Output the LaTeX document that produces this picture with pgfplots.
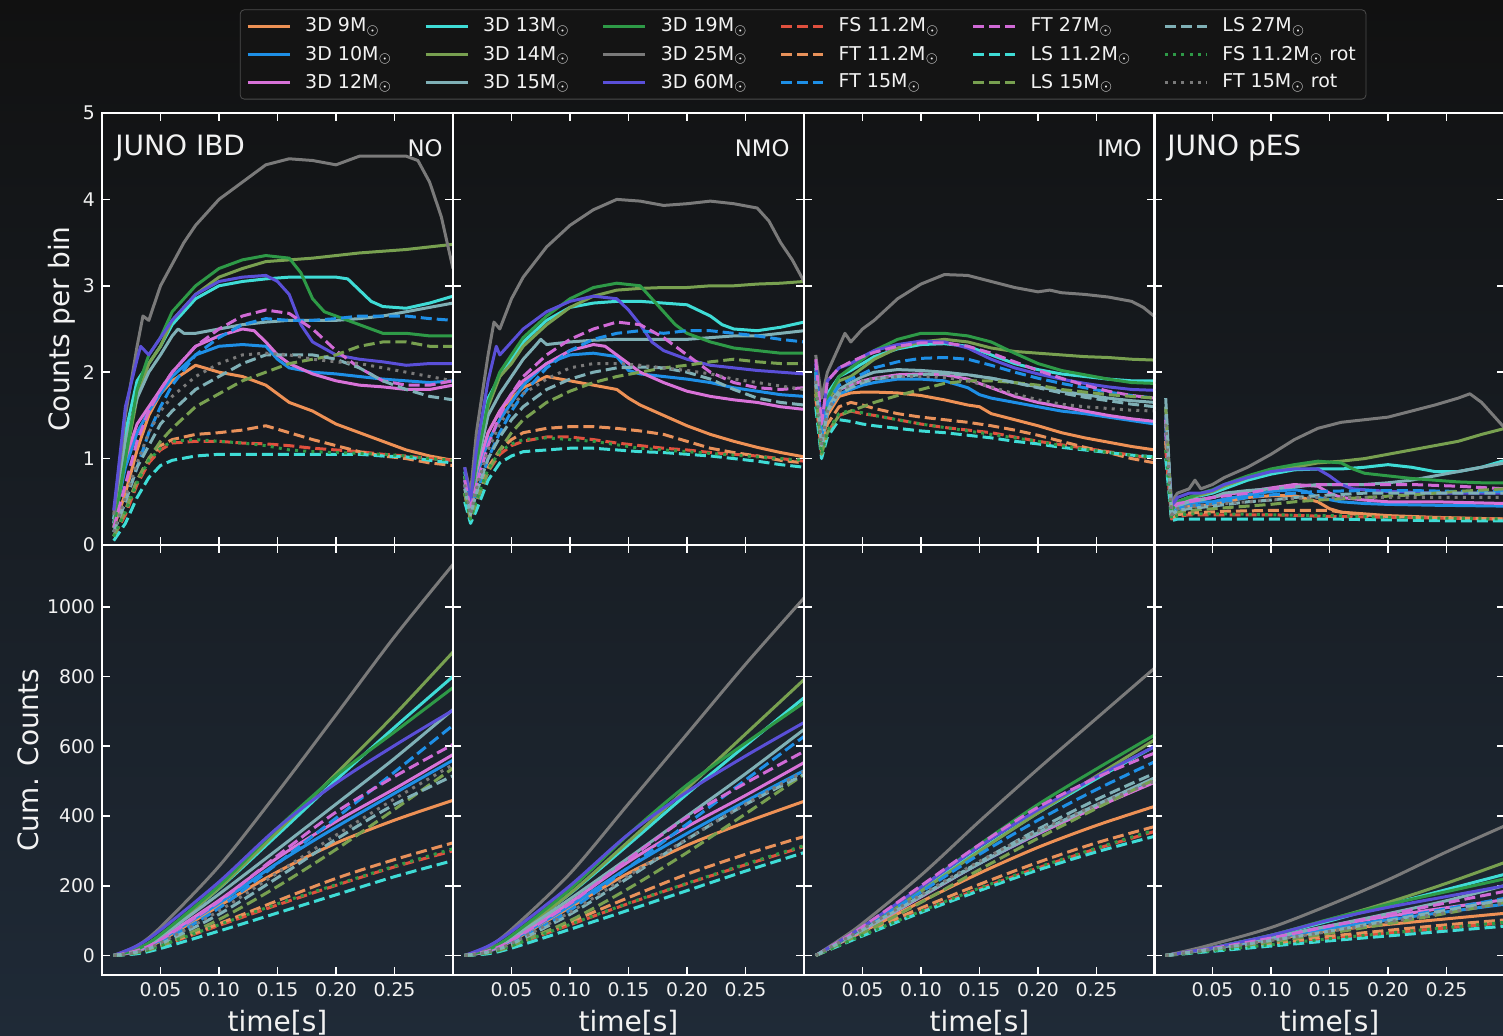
\documentclass[border=0pt]{standalone}
\usepackage{pgfplots}
\pgfplotsset{compat=1.18}
\usepackage{fontspec}
\setmainfont{DejaVu Sans}
\definecolor{bgtop}{HTML}{111111}
\definecolor{bgmid}{HTML}{16191D}
\definecolor{bgbot}{HTML}{1F2A37}
\definecolor{txt}{HTML}{F2F2F2}
\definecolor{c9}{HTML}{EE9155}
\definecolor{c10}{HTML}{1E8FE6}
\definecolor{c12}{HTML}{D872D8}
\definecolor{c13}{HTML}{3FDCD6}
\definecolor{c14}{HTML}{78A050}
\definecolor{c15}{HTML}{7FB0B6}
\definecolor{c19}{HTML}{2E9A47}
\definecolor{c25}{HTML}{7A7A7A}
\definecolor{c60}{HTML}{5A4FD8}
\definecolor{cFS}{HTML}{E0503E}
\definecolor{cFT}{HTML}{E8915A}
\definecolor{cFTb}{HTML}{1E8FE6}
\definecolor{cFTc}{HTML}{D06AD6}
\tikzset{
 base/.style={line width=1.5pt, line join=round},
 s9/.style={base,c9}, s10/.style={base,c10}, s12/.style={base,c12},
 s13/.style={base,c13}, s14/.style={base,c14}, s15/.style={base,c15},
 s19/.style={base,c19}, s25/.style={base,c25}, s60/.style={base,c60},
 dsh/.style={base,dash pattern=on 5.5pt off 2.5pt},
 dot/.style={base,dash pattern=on 1.5pt off 2.6pt},
 sFS/.style={dsh,cFS}, sFT/.style={dsh,cFT}, sFTb/.style={dsh,cFTb},
 sFTc/.style={dsh,cFTc}, sLS/.style={dsh,c13}, sLSb/.style={dsh,c14},
 sLSc/.style={dsh,c15}, sFSr/.style={dot,c19}, sFTr/.style={dot,c25},
}
\pgfplotsset{
 panel/.style={scale only axis, width=175.5pt, xmin=0, xmax=0.3,
  axis line style={white, line width=0.8pt},
  every tick/.style={white, line width=0.8pt},
  major tick length=4pt, tick align=inside, xtick pos=both, ytick pos=both,
  xtick={0.05,0.10,0.15,0.20,0.25},
  tick label style={text=txt, font=\fontsize{9.4}{11}\selectfont},
  /pgf/number format/assume math mode=true,
  /pgf/number format/1000 sep={},
  label style={text=txt, font=\fontsize{14}{16}\selectfont},
  ylabel shift=-3pt,
  anchor=north west},
 toprow/.style={panel, height=216pt, ymin=0, ymax=5, ytick={0,1,2,3,4,5}, xticklabels={}},
 botrow/.style={panel, height=215pt, ymin=-56, ymax=1177, ytick={0,200,400,600,800,1000},
  xticklabel style={/pgf/number format/.cd, fixed, fixed zerofill, precision=2},
  xlabel={time[s]}},
 notick/.style={yticklabels={}},
}
\newcommand{\ptxt}[3]{\node[anchor=#1, inner sep=0pt, text=txt, font=\fontsize{#3}{#3}\selectfont] at #2}
\begin{document}
\begin{tikzpicture}
\shade[top color=bgtop, middle color=bgmid, bottom color=bgbot] (0pt,0pt) rectangle (751.5pt,-518pt);

% ---------------- TOP ROW ----------------
\begin{axis}[toprow, at={(51pt,-56.5pt)}, ylabel={Counts per bin}]
\addplot[s9] coordinates {(0.01,0.2)(0.02,0.6)(0.03,1.1)(0.04,1.5)(0.05,1.75)(0.06,1.9)(0.08,2.08)(0.10,2.0)(0.12,1.95)(0.14,1.85)(0.15,1.75)(0.16,1.65)(0.18,1.55)(0.20,1.4)(0.22,1.3)(0.24,1.2)(0.26,1.1)(0.28,1.03)(0.30,0.98)};
\addplot[s10] coordinates {(0.01,0.25)(0.02,0.9)(0.03,1.3)(0.04,1.55)(0.05,1.75)(0.06,1.95)(0.08,2.2)(0.10,2.3)(0.12,2.32)(0.14,2.3)(0.15,2.15)(0.16,2.05)(0.18,2.0)(0.20,1.98)(0.22,1.95)(0.24,1.92)(0.26,1.9)(0.28,1.88)(0.30,1.9)};
\addplot[s12] coordinates {(0.01,0.3)(0.02,1.0)(0.03,1.4)(0.04,1.6)(0.05,1.8)(0.06,2.0)(0.08,2.3)(0.10,2.42)(0.12,2.5)(0.13,2.48)(0.14,2.35)(0.15,2.2)(0.16,2.1)(0.18,1.98)(0.20,1.9)(0.22,1.85)(0.24,1.83)(0.26,1.8)(0.28,1.8)(0.30,1.85)};
\addplot[s13] coordinates {(0.01,0.3)(0.02,1.3)(0.03,1.9)(0.04,2.1)(0.05,2.3)(0.06,2.55)(0.08,2.85)(0.10,3.0)(0.12,3.05)(0.14,3.08)(0.16,3.1)(0.18,3.1)(0.20,3.1)(0.21,3.08)(0.22,2.95)(0.23,2.82)(0.24,2.76)(0.26,2.74)(0.28,2.8)(0.30,2.88)};
\addplot[s14] coordinates {(0.01,0.2)(0.02,1.0)(0.03,1.7)(0.04,2.1)(0.05,2.3)(0.06,2.6)(0.08,2.9)(0.10,3.1)(0.12,3.2)(0.14,3.28)(0.16,3.3)(0.18,3.32)(0.20,3.35)(0.22,3.38)(0.24,3.4)(0.26,3.42)(0.28,3.45)(0.30,3.48)};
\addplot[s15] coordinates {(0.01,0.25)(0.02,1.2)(0.03,1.7)(0.04,2.0)(0.05,2.2)(0.06,2.42)(0.065,2.5)(0.07,2.45)(0.08,2.45)(0.10,2.5)(0.12,2.55)(0.14,2.58)(0.16,2.6)(0.18,2.6)(0.20,2.6)(0.22,2.62)(0.24,2.65)(0.26,2.7)(0.28,2.75)(0.30,2.8)};
\addplot[s19] coordinates {(0.01,0.2)(0.02,1.0)(0.03,1.8)(0.04,2.2)(0.05,2.4)(0.06,2.7)(0.08,3.0)(0.10,3.2)(0.12,3.3)(0.14,3.35)(0.16,3.32)(0.17,3.15)(0.18,2.85)(0.19,2.7)(0.20,2.65)(0.22,2.55)(0.24,2.45)(0.26,2.45)(0.28,2.42)(0.30,2.42)};
\addplot[s25] coordinates {(0.01,0.35)(0.02,1.5)(0.03,2.3)(0.035,2.65)(0.04,2.6)(0.05,3.0)(0.06,3.25)(0.07,3.5)(0.08,3.7)(0.10,4.0)(0.12,4.2)(0.14,4.4)(0.16,4.47)(0.18,4.45)(0.20,4.4)(0.22,4.5)(0.24,4.5)(0.26,4.5)(0.27,4.45)(0.28,4.2)(0.29,3.8)(0.30,3.2)};
\addplot[s60] coordinates {(0.01,0.4)(0.02,1.6)(0.03,2.15)(0.033,2.3)(0.04,2.2)(0.05,2.4)(0.06,2.6)(0.08,2.9)(0.10,3.05)(0.12,3.1)(0.14,3.12)(0.15,3.05)(0.16,2.9)(0.17,2.55)(0.18,2.35)(0.20,2.2)(0.22,2.15)(0.24,2.12)(0.26,2.08)(0.28,2.1)(0.30,2.1)};
\addplot[sFS] coordinates {(0.01,0.1)(0.02,0.35)(0.03,0.7)(0.04,0.95)(0.05,1.1)(0.06,1.18)(0.08,1.2)(0.10,1.2)(0.12,1.18)(0.14,1.17)(0.16,1.15)(0.18,1.12)(0.20,1.1)(0.22,1.08)(0.24,1.05)(0.26,1.03)(0.28,1.0)(0.30,0.98)};
\addplot[sFT] coordinates {(0.01,0.1)(0.02,0.4)(0.03,0.75)(0.04,1.0)(0.05,1.15)(0.06,1.22)(0.08,1.28)(0.10,1.3)(0.12,1.33)(0.14,1.38)(0.16,1.3)(0.18,1.22)(0.20,1.15)(0.22,1.08)(0.24,1.03)(0.26,1.0)(0.28,0.95)(0.30,0.92)};
\addplot[sFTb] coordinates {(0.01,0.15)(0.02,0.5)(0.03,0.9)(0.04,1.3)(0.05,1.6)(0.06,1.85)(0.08,2.2)(0.10,2.4)(0.12,2.55)(0.14,2.62)(0.16,2.6)(0.18,2.6)(0.20,2.62)(0.22,2.65)(0.24,2.65)(0.26,2.65)(0.28,2.62)(0.30,2.6)};
\addplot[sFTc] coordinates {(0.01,0.2)(0.02,0.7)(0.03,1.2)(0.04,1.55)(0.05,1.8)(0.06,2.0)(0.08,2.3)(0.10,2.5)(0.12,2.65)(0.14,2.72)(0.16,2.68)(0.18,2.5)(0.20,2.25)(0.22,2.05)(0.24,1.9)(0.26,1.85)(0.28,1.85)(0.30,1.9)};
\addplot[sLS] coordinates {(0.01,0.05)(0.02,0.25)(0.03,0.55)(0.04,0.78)(0.05,0.92)(0.06,0.98)(0.08,1.03)(0.10,1.05)(0.12,1.05)(0.14,1.05)(0.16,1.05)(0.18,1.05)(0.20,1.05)(0.22,1.05)(0.24,1.03)(0.26,1.02)(0.28,0.98)(0.30,0.95)};
\addplot[sLSb] coordinates {(0.01,0.1)(0.02,0.4)(0.03,0.75)(0.04,1.0)(0.05,1.2)(0.06,1.35)(0.08,1.6)(0.10,1.75)(0.12,1.9)(0.14,2.0)(0.16,2.1)(0.18,2.15)(0.20,2.2)(0.22,2.3)(0.24,2.35)(0.26,2.35)(0.28,2.3)(0.30,2.3)};
\addplot[sLSc] coordinates {(0.01,0.15)(0.02,0.5)(0.03,0.9)(0.04,1.15)(0.05,1.4)(0.06,1.55)(0.08,1.8)(0.10,1.95)(0.12,2.1)(0.14,2.2)(0.16,2.2)(0.18,2.2)(0.20,2.15)(0.22,2.05)(0.24,1.9)(0.26,1.8)(0.28,1.72)(0.30,1.68)};
\addplot[sFSr] coordinates {(0.01,0.1)(0.02,0.38)(0.03,0.72)(0.04,0.98)(0.05,1.12)(0.06,1.2)(0.08,1.22)(0.10,1.2)(0.12,1.18)(0.14,1.15)(0.16,1.1)(0.18,1.08)(0.20,1.07)(0.22,1.06)(0.24,1.05)(0.26,1.03)(0.28,1.0)(0.30,0.98)};
\addplot[sFTr] coordinates {(0.01,0.15)(0.02,0.55)(0.03,0.95)(0.04,1.3)(0.05,1.55)(0.06,1.72)(0.08,1.95)(0.10,2.1)(0.12,2.2)(0.14,2.22)(0.16,2.2)(0.18,2.15)(0.20,2.12)(0.22,2.1)(0.24,2.05)(0.26,2.0)(0.28,1.95)(0.30,1.9)};
\ptxt{west}{(rel axis cs:0.037,0.919)}{14}{JUNO IBD};
\ptxt{east}{(rel axis cs:0.9715,0.919)}{11.4}{NO};
\end{axis}

\begin{axis}[toprow, notick, at={(226.5pt,-56.5pt)}]
\addplot[s9] coordinates {(0.01,0.7)(0.015,0.35)(0.02,0.75)(0.03,1.3)(0.04,1.55)(0.05,1.7)(0.06,1.82)(0.08,1.95)(0.10,1.9)(0.12,1.85)(0.14,1.8)(0.15,1.7)(0.16,1.62)(0.18,1.5)(0.20,1.38)(0.22,1.28)(0.24,1.2)(0.26,1.13)(0.28,1.07)(0.30,1.02)};
\addplot[s10] coordinates {(0.01,0.75)(0.015,0.4)(0.02,0.8)(0.03,1.2)(0.04,1.45)(0.05,1.65)(0.06,1.85)(0.08,2.1)(0.10,2.2)(0.12,2.22)(0.14,2.18)(0.15,2.02)(0.16,1.98)(0.18,1.95)(0.20,1.92)(0.22,1.88)(0.24,1.82)(0.26,1.78)(0.28,1.74)(0.30,1.72)};
\addplot[s12] coordinates {(0.01,0.8)(0.015,0.4)(0.02,0.85)(0.03,1.3)(0.04,1.55)(0.05,1.75)(0.06,1.9)(0.08,2.1)(0.10,2.25)(0.12,2.32)(0.13,2.3)(0.14,2.2)(0.16,2.0)(0.18,1.88)(0.20,1.78)(0.22,1.72)(0.24,1.68)(0.26,1.65)(0.28,1.6)(0.30,1.57)};
\addplot[s13] coordinates {(0.01,0.85)(0.015,0.45)(0.02,1.0)(0.03,1.7)(0.04,1.95)(0.05,2.15)(0.06,2.35)(0.08,2.6)(0.10,2.75)(0.12,2.8)(0.14,2.82)(0.16,2.82)(0.18,2.8)(0.20,2.78)(0.22,2.65)(0.23,2.55)(0.24,2.5)(0.26,2.48)(0.28,2.52)(0.30,2.58)};
\addplot[s14] coordinates {(0.01,0.8)(0.015,0.45)(0.02,0.9)(0.03,1.6)(0.04,1.95)(0.05,2.1)(0.06,2.3)(0.08,2.55)(0.10,2.75)(0.12,2.88)(0.14,2.95)(0.16,2.97)(0.18,2.98)(0.20,2.98)(0.22,3.0)(0.24,3.0)(0.26,3.02)(0.28,3.03)(0.30,3.05)};
\addplot[s15] coordinates {(0.01,0.8)(0.015,0.4)(0.02,0.9)(0.03,1.5)(0.04,1.75)(0.05,1.95)(0.06,2.15)(0.07,2.3)(0.075,2.38)(0.08,2.32)(0.10,2.35)(0.12,2.37)(0.14,2.38)(0.16,2.38)(0.18,2.38)(0.20,2.38)(0.22,2.4)(0.24,2.42)(0.26,2.42)(0.28,2.45)(0.30,2.48)};
\addplot[s19] coordinates {(0.01,0.8)(0.015,0.45)(0.02,0.95)(0.03,1.65)(0.04,2.0)(0.05,2.2)(0.06,2.4)(0.08,2.65)(0.10,2.85)(0.12,2.98)(0.14,3.03)(0.16,3.0)(0.17,2.85)(0.18,2.7)(0.19,2.55)(0.20,2.45)(0.22,2.35)(0.24,2.28)(0.26,2.25)(0.28,2.22)(0.30,2.22)};
\addplot[s25] coordinates {(0.01,0.9)(0.015,0.6)(0.02,1.3)(0.03,2.2)(0.035,2.58)(0.04,2.5)(0.05,2.85)(0.06,3.1)(0.08,3.45)(0.10,3.7)(0.12,3.88)(0.14,4.0)(0.16,3.98)(0.18,3.93)(0.20,3.95)(0.22,3.98)(0.24,3.95)(0.26,3.9)(0.27,3.75)(0.28,3.5)(0.29,3.3)(0.30,3.05)};
\addplot[s60] coordinates {(0.01,0.9)(0.015,0.5)(0.02,1.1)(0.03,1.9)(0.037,2.3)(0.04,2.2)(0.05,2.35)(0.06,2.5)(0.08,2.7)(0.10,2.82)(0.12,2.88)(0.14,2.85)(0.15,2.72)(0.16,2.55)(0.17,2.35)(0.18,2.25)(0.20,2.15)(0.22,2.08)(0.24,2.05)(0.26,2.02)(0.28,2.0)(0.30,1.98)};
\addplot[sFS] coordinates {(0.01,0.6)(0.015,0.3)(0.02,0.5)(0.03,0.85)(0.04,1.05)(0.05,1.15)(0.06,1.2)(0.08,1.25)(0.10,1.25)(0.12,1.22)(0.14,1.18)(0.16,1.15)(0.18,1.12)(0.20,1.1)(0.22,1.07)(0.24,1.05)(0.26,1.03)(0.28,1.0)(0.30,0.97)};
\addplot[sFT] coordinates {(0.01,0.6)(0.015,0.3)(0.02,0.55)(0.03,0.9)(0.04,1.1)(0.05,1.22)(0.06,1.3)(0.08,1.35)(0.10,1.37)(0.12,1.37)(0.14,1.35)(0.16,1.32)(0.18,1.28)(0.20,1.2)(0.22,1.12)(0.24,1.07)(0.26,1.03)(0.28,0.98)(0.30,0.95)};
\addplot[sFTb] coordinates {(0.01,0.7)(0.015,0.35)(0.02,0.6)(0.03,1.0)(0.04,1.3)(0.05,1.55)(0.06,1.75)(0.08,2.05)(0.10,2.25)(0.12,2.38)(0.14,2.45)(0.16,2.48)(0.18,2.45)(0.20,2.48)(0.22,2.48)(0.24,2.45)(0.26,2.42)(0.28,2.38)(0.30,2.35)};
\addplot[sFTc] coordinates {(0.01,0.75)(0.015,0.4)(0.02,0.7)(0.03,1.15)(0.04,1.5)(0.05,1.75)(0.06,1.95)(0.08,2.2)(0.10,2.38)(0.12,2.5)(0.14,2.58)(0.16,2.55)(0.18,2.4)(0.20,2.2)(0.22,2.0)(0.24,1.88)(0.26,1.82)(0.28,1.8)(0.30,1.82)};
\addplot[sLS] coordinates {(0.01,0.5)(0.015,0.25)(0.02,0.4)(0.03,0.75)(0.04,0.95)(0.05,1.03)(0.06,1.08)(0.08,1.1)(0.10,1.12)(0.12,1.12)(0.14,1.1)(0.16,1.08)(0.18,1.07)(0.20,1.05)(0.22,1.03)(0.24,1.0)(0.26,0.97)(0.28,0.93)(0.30,0.9)};
\addplot[sLSb] coordinates {(0.01,0.6)(0.015,0.3)(0.02,0.5)(0.03,0.85)(0.04,1.1)(0.05,1.3)(0.06,1.45)(0.08,1.65)(0.10,1.78)(0.12,1.88)(0.14,1.95)(0.16,2.0)(0.18,2.05)(0.20,2.08)(0.22,2.12)(0.24,2.15)(0.26,2.12)(0.28,2.1)(0.30,2.1)};
\addplot[sLSc] coordinates {(0.01,0.65)(0.015,0.35)(0.02,0.6)(0.03,1.0)(0.04,1.25)(0.05,1.45)(0.06,1.6)(0.08,1.8)(0.10,1.92)(0.12,2.0)(0.14,2.05)(0.16,2.06)(0.18,2.05)(0.20,2.0)(0.22,1.92)(0.24,1.8)(0.26,1.7)(0.28,1.65)(0.30,1.62)};
\addplot[sFSr] coordinates {(0.01,0.6)(0.015,0.3)(0.02,0.52)(0.03,0.88)(0.04,1.08)(0.05,1.17)(0.06,1.22)(0.08,1.24)(0.10,1.22)(0.12,1.2)(0.14,1.16)(0.16,1.12)(0.18,1.1)(0.20,1.08)(0.22,1.06)(0.24,1.04)(0.26,1.02)(0.28,1.0)(0.30,0.98)};
\addplot[sFTr] coordinates {(0.01,0.7)(0.015,0.35)(0.02,0.65)(0.03,1.1)(0.04,1.4)(0.05,1.6)(0.06,1.75)(0.08,1.92)(0.10,2.05)(0.12,2.1)(0.14,2.1)(0.16,2.08)(0.18,2.05)(0.20,2.02)(0.22,1.98)(0.24,1.92)(0.26,1.88)(0.28,1.84)(0.30,1.8)};
\ptxt{east}{(rel axis cs:0.960,0.919)}{11.4}{NMO};
\end{axis}

\begin{axis}[toprow, notick, at={(402pt,-56.5pt)}]
\addplot[s9] coordinates {(0.01,1.85)(0.015,1.1)(0.02,1.5)(0.03,1.72)(0.04,1.76)(0.05,1.77)(0.06,1.77)(0.08,1.76)(0.10,1.73)(0.12,1.68)(0.14,1.62)(0.15,1.6)(0.16,1.52)(0.18,1.45)(0.20,1.38)(0.22,1.3)(0.24,1.24)(0.26,1.19)(0.28,1.14)(0.30,1.1)};
\addplot[s10] coordinates {(0.01,1.9)(0.015,1.15)(0.02,1.55)(0.03,1.75)(0.04,1.8)(0.05,1.85)(0.06,1.88)(0.08,1.92)(0.10,1.92)(0.12,1.9)(0.14,1.82)(0.15,1.74)(0.16,1.7)(0.18,1.65)(0.20,1.6)(0.22,1.55)(0.24,1.52)(0.26,1.48)(0.28,1.44)(0.30,1.4)};
\addplot[s12] coordinates {(0.01,1.95)(0.015,1.2)(0.02,1.6)(0.03,1.8)(0.04,1.85)(0.05,1.9)(0.06,1.93)(0.08,1.97)(0.10,1.98)(0.12,1.97)(0.14,1.92)(0.16,1.82)(0.18,1.72)(0.20,1.65)(0.22,1.6)(0.24,1.55)(0.26,1.5)(0.28,1.46)(0.30,1.43)};
\addplot[s13] coordinates {(0.01,2.05)(0.015,1.3)(0.02,1.75)(0.03,1.95)(0.04,2.02)(0.05,2.1)(0.06,2.18)(0.08,2.27)(0.10,2.32)(0.12,2.33)(0.14,2.3)(0.16,2.2)(0.18,2.1)(0.20,2.03)(0.22,1.98)(0.24,1.95)(0.26,1.92)(0.28,1.9)(0.30,1.9)};
\addplot[s14] coordinates {(0.01,2.0)(0.015,1.3)(0.02,1.65)(0.03,1.9)(0.04,1.95)(0.05,2.05)(0.06,2.15)(0.08,2.28)(0.10,2.35)(0.12,2.38)(0.14,2.35)(0.16,2.28)(0.18,2.24)(0.20,2.22)(0.22,2.2)(0.24,2.18)(0.26,2.17)(0.28,2.15)(0.30,2.14)};
\addplot[s15] coordinates {(0.01,2.0)(0.015,1.2)(0.02,1.6)(0.03,1.8)(0.04,1.88)(0.05,1.95)(0.06,2.0)(0.08,2.03)(0.10,2.02)(0.12,2.0)(0.14,1.97)(0.16,1.93)(0.18,1.88)(0.20,1.83)(0.22,1.78)(0.24,1.74)(0.26,1.7)(0.28,1.67)(0.30,1.65)};
\addplot[s19] coordinates {(0.01,2.0)(0.015,1.3)(0.02,1.7)(0.03,1.95)(0.04,2.05)(0.05,2.15)(0.06,2.25)(0.08,2.38)(0.10,2.45)(0.12,2.45)(0.14,2.42)(0.16,2.35)(0.18,2.22)(0.20,2.1)(0.22,2.02)(0.24,1.97)(0.26,1.92)(0.28,1.88)(0.30,1.87)};
\addplot[s25] coordinates {(0.01,2.2)(0.015,1.7)(0.02,2.0)(0.03,2.3)(0.035,2.45)(0.04,2.35)(0.05,2.5)(0.06,2.6)(0.08,2.85)(0.10,3.02)(0.12,3.13)(0.14,3.12)(0.16,3.05)(0.18,2.98)(0.20,2.93)(0.21,2.95)(0.22,2.92)(0.24,2.9)(0.26,2.87)(0.28,2.82)(0.29,2.75)(0.30,2.64)};
\addplot[s60] coordinates {(0.01,2.1)(0.015,1.4)(0.02,1.9)(0.03,2.05)(0.04,2.1)(0.05,2.18)(0.06,2.25)(0.08,2.32)(0.10,2.36)(0.12,2.35)(0.14,2.28)(0.16,2.15)(0.18,2.05)(0.20,1.98)(0.22,1.92)(0.24,1.87)(0.26,1.83)(0.28,1.8)(0.30,1.79)};
\addplot[sFS] coordinates {(0.01,1.7)(0.015,1.05)(0.02,1.3)(0.03,1.5)(0.04,1.55)(0.05,1.52)(0.06,1.5)(0.08,1.45)(0.10,1.4)(0.12,1.36)(0.14,1.33)(0.16,1.3)(0.18,1.25)(0.20,1.2)(0.22,1.16)(0.24,1.12)(0.26,1.08)(0.28,1.04)(0.30,1.0)};
\addplot[sFT] coordinates {(0.01,1.75)(0.015,1.1)(0.02,1.4)(0.03,1.6)(0.04,1.65)(0.05,1.62)(0.06,1.58)(0.08,1.52)(0.10,1.48)(0.12,1.45)(0.14,1.42)(0.16,1.38)(0.18,1.33)(0.20,1.27)(0.22,1.2)(0.24,1.13)(0.26,1.07)(0.28,1.0)(0.30,0.95)};
\addplot[sFTb] coordinates {(0.01,2.0)(0.015,1.25)(0.02,1.65)(0.03,1.85)(0.04,1.92)(0.05,1.98)(0.06,2.05)(0.08,2.12)(0.10,2.16)(0.12,2.17)(0.14,2.15)(0.16,2.08)(0.18,2.0)(0.20,1.93)(0.22,1.87)(0.24,1.82)(0.26,1.77)(0.28,1.73)(0.30,1.7)};
\addplot[sFTc] coordinates {(0.01,2.15)(0.015,1.4)(0.02,1.9)(0.03,2.05)(0.04,2.12)(0.05,2.18)(0.06,2.23)(0.08,2.3)(0.10,2.34)(0.12,2.34)(0.14,2.3)(0.16,2.22)(0.18,2.12)(0.20,2.02)(0.22,1.93)(0.24,1.85)(0.26,1.78)(0.28,1.73)(0.30,1.7)};
\addplot[sLS] coordinates {(0.01,1.6)(0.015,1.0)(0.02,1.25)(0.03,1.45)(0.04,1.43)(0.05,1.4)(0.06,1.38)(0.08,1.35)(0.10,1.32)(0.12,1.3)(0.14,1.27)(0.16,1.24)(0.18,1.2)(0.20,1.17)(0.22,1.13)(0.24,1.1)(0.26,1.07)(0.28,1.04)(0.30,1.02)};
\addplot[sLSb] coordinates {(0.01,1.8)(0.015,1.05)(0.02,1.3)(0.03,1.5)(0.04,1.55)(0.05,1.6)(0.06,1.65)(0.08,1.73)(0.10,1.8)(0.12,1.87)(0.14,1.9)(0.16,1.9)(0.18,1.88)(0.20,1.85)(0.22,1.8)(0.24,1.77)(0.26,1.74)(0.28,1.72)(0.30,1.7)};
\addplot[sLSc] coordinates {(0.01,1.9)(0.015,1.15)(0.02,1.55)(0.03,1.75)(0.04,1.82)(0.05,1.88)(0.06,1.92)(0.08,1.95)(0.10,1.97)(0.12,1.98)(0.14,1.97)(0.16,1.93)(0.18,1.88)(0.20,1.82)(0.22,1.76)(0.24,1.71)(0.26,1.67)(0.28,1.63)(0.30,1.6)};
\addplot[sFSr] coordinates {(0.01,1.7)(0.015,1.05)(0.02,1.32)(0.03,1.52)(0.04,1.56)(0.05,1.53)(0.06,1.5)(0.08,1.45)(0.10,1.4)(0.12,1.36)(0.14,1.32)(0.16,1.28)(0.18,1.24)(0.20,1.2)(0.22,1.15)(0.24,1.11)(0.26,1.07)(0.28,1.04)(0.30,1.01)};
\addplot[sFTr] coordinates {(0.01,1.9)(0.015,1.15)(0.02,1.55)(0.03,1.78)(0.04,1.85)(0.05,1.9)(0.06,1.93)(0.08,1.95)(0.10,1.95)(0.12,1.94)(0.14,1.9)(0.16,1.83)(0.18,1.75)(0.20,1.68)(0.22,1.63)(0.24,1.6)(0.26,1.58)(0.28,1.56)(0.30,1.55)};
\ptxt{east}{(rel axis cs:0.963,0.919)}{11.4}{IMO};
\end{axis}

\begin{axis}[toprow, notick, at={(577pt,-56.5pt)}]
\addplot[s9] coordinates {(0.01,1.2)(0.015,0.35)(0.02,0.42)(0.03,0.45)(0.04,0.45)(0.05,0.47)(0.06,0.5)(0.08,0.55)(0.10,0.57)(0.12,0.57)(0.14,0.5)(0.15,0.42)(0.16,0.38)(0.18,0.36)(0.20,0.34)(0.24,0.32)(0.30,0.3)};
\addplot[s10] coordinates {(0.01,1.3)(0.015,0.35)(0.02,0.45)(0.03,0.48)(0.04,0.5)(0.05,0.5)(0.06,0.53)(0.08,0.58)(0.10,0.62)(0.12,0.64)(0.13,0.62)(0.14,0.55)(0.16,0.5)(0.18,0.48)(0.20,0.47)(0.24,0.46)(0.30,0.45)};
\addplot[s12] coordinates {(0.01,1.3)(0.015,0.4)(0.02,0.5)(0.03,0.52)(0.04,0.53)(0.05,0.55)(0.06,0.58)(0.08,0.62)(0.10,0.66)(0.12,0.7)(0.14,0.68)(0.15,0.6)(0.16,0.55)(0.18,0.52)(0.20,0.5)(0.24,0.5)(0.30,0.48)};
\addplot[s13] coordinates {(0.01,1.45)(0.015,0.4)(0.02,0.5)(0.03,0.55)(0.04,0.57)(0.05,0.6)(0.06,0.65)(0.08,0.75)(0.10,0.82)(0.12,0.87)(0.14,0.88)(0.16,0.88)(0.18,0.9)(0.20,0.93)(0.22,0.9)(0.24,0.85)(0.26,0.85)(0.28,0.9)(0.30,0.98)};
\addplot[s14] coordinates {(0.01,1.5)(0.015,0.4)(0.02,0.5)(0.03,0.55)(0.04,0.58)(0.05,0.62)(0.06,0.68)(0.08,0.78)(0.10,0.85)(0.12,0.9)(0.14,0.95)(0.16,0.97)(0.18,1.0)(0.20,1.05)(0.22,1.1)(0.24,1.15)(0.26,1.2)(0.28,1.28)(0.30,1.35)};
\addplot[s15] coordinates {(0.01,1.6)(0.015,0.35)(0.02,0.45)(0.03,0.5)(0.04,0.52)(0.05,0.55)(0.06,0.6)(0.08,0.63)(0.10,0.65)(0.12,0.67)(0.14,0.7)(0.16,0.7)(0.18,0.7)(0.20,0.72)(0.22,0.75)(0.24,0.8)(0.26,0.85)(0.28,0.9)(0.30,0.95)};
\addplot[s19] coordinates {(0.01,1.5)(0.015,0.4)(0.02,0.5)(0.03,0.55)(0.04,0.6)(0.05,0.64)(0.06,0.7)(0.08,0.8)(0.10,0.88)(0.12,0.93)(0.14,0.97)(0.16,0.95)(0.17,0.88)(0.18,0.83)(0.20,0.8)(0.22,0.77)(0.24,0.75)(0.26,0.73)(0.28,0.72)(0.30,0.72)};
\addplot[s25] coordinates {(0.01,1.4)(0.015,0.5)(0.02,0.6)(0.03,0.65)(0.035,0.75)(0.04,0.65)(0.05,0.7)(0.06,0.78)(0.08,0.9)(0.10,1.05)(0.12,1.22)(0.14,1.35)(0.16,1.42)(0.18,1.45)(0.20,1.48)(0.22,1.55)(0.24,1.62)(0.26,1.7)(0.27,1.75)(0.28,1.65)(0.29,1.5)(0.30,1.35)};
\addplot[s60] coordinates {(0.01,1.5)(0.015,0.45)(0.02,0.55)(0.03,0.6)(0.04,0.6)(0.05,0.63)(0.06,0.7)(0.08,0.78)(0.10,0.85)(0.12,0.88)(0.14,0.88)(0.15,0.8)(0.16,0.7)(0.17,0.65)(0.20,0.62)(0.24,0.6)(0.30,0.6)};
\addplot[sFS] coordinates {(0.01,1.1)(0.015,0.3)(0.02,0.33)(0.03,0.35)(0.06,0.35)(0.10,0.35)(0.15,0.33)(0.20,0.32)(0.25,0.31)(0.30,0.3)};
\addplot[sFT] coordinates {(0.01,1.2)(0.015,0.3)(0.02,0.35)(0.03,0.37)(0.06,0.39)(0.10,0.4)(0.15,0.4)(0.17,0.36)(0.20,0.33)(0.25,0.31)(0.30,0.3)};
\addplot[sFTb] coordinates {(0.01,1.4)(0.015,0.35)(0.02,0.42)(0.03,0.45)(0.05,0.48)(0.08,0.55)(0.10,0.58)(0.12,0.6)(0.14,0.62)(0.18,0.63)(0.22,0.63)(0.26,0.62)(0.30,0.62)};
\addplot[sFTc] coordinates {(0.01,1.45)(0.015,0.4)(0.02,0.48)(0.03,0.5)(0.05,0.55)(0.08,0.6)(0.10,0.65)(0.12,0.68)(0.14,0.7)(0.18,0.7)(0.22,0.7)(0.26,0.68)(0.30,0.65)};
\addplot[sLS] coordinates {(0.01,1.0)(0.015,0.28)(0.02,0.3)(0.05,0.3)(0.10,0.3)(0.15,0.3)(0.20,0.29)(0.25,0.28)(0.30,0.28)};
\addplot[sLSb] coordinates {(0.01,1.6)(0.015,0.35)(0.02,0.38)(0.03,0.4)(0.05,0.42)(0.08,0.45)(0.10,0.47)(0.12,0.5)(0.14,0.52)(0.18,0.55)(0.22,0.58)(0.26,0.62)(0.30,0.65)};
\addplot[sLSc] coordinates {(0.01,1.7)(0.015,0.35)(0.02,0.4)(0.03,0.42)(0.05,0.45)(0.08,0.5)(0.10,0.52)(0.12,0.55)(0.14,0.57)(0.18,0.6)(0.22,0.6)(0.26,0.6)(0.30,0.6)};
\addplot[sFSr] coordinates {(0.01,1.1)(0.015,0.3)(0.02,0.34)(0.03,0.36)(0.06,0.36)(0.10,0.35)(0.15,0.34)(0.20,0.32)(0.25,0.31)(0.30,0.3)};
\addplot[sFTr] coordinates {(0.01,1.4)(0.015,0.35)(0.02,0.42)(0.03,0.45)(0.05,0.47)(0.08,0.5)(0.10,0.52)(0.12,0.54)(0.14,0.55)(0.18,0.55)(0.22,0.55)(0.26,0.55)(0.30,0.55)};
\ptxt{west}{(rel axis cs:0.037,0.919)}{14}{JUNO pES};
\end{axis}

% ---------------- BOTTOM ROW ----------------
\begin{axis}[botrow, at={(51pt,-272.5pt)}, ylabel={Cum. Counts}]
\addplot[s9,smooth] coordinates {(0.01,0)(0.03,12)(0.05,42)(0.10,142)(0.15,240)(0.20,322)(0.25,388)(0.30,445)};
\addplot[s10,smooth] coordinates {(0.01,0)(0.03,13)(0.05,45)(0.10,150)(0.15,265)(0.20,368)(0.25,465)(0.30,560)};
\addplot[s12,smooth] coordinates {(0.01,0)(0.03,14)(0.05,48)(0.10,158)(0.15,280)(0.20,384)(0.25,478)(0.30,576)};
\addplot[s13,smooth] coordinates {(0.01,0)(0.03,18)(0.05,58)(0.10,192)(0.15,346)(0.20,503)(0.25,654)(0.30,800)};
\addplot[s14,smooth] coordinates {(0.01,0)(0.03,18)(0.05,58)(0.10,193)(0.15,355)(0.20,521)(0.25,690)(0.30,870)};
\addplot[s15,smooth] coordinates {(0.01,0)(0.03,17)(0.05,54)(0.10,176)(0.15,304)(0.20,434)(0.25,565)(0.30,705)};
\addplot[s19,smooth] coordinates {(0.01,0)(0.03,18)(0.05,60)(0.10,200)(0.15,365)(0.20,515)(0.25,641)(0.30,768)};
\addplot[s25,smooth] coordinates {(0.01,0)(0.03,28)(0.05,81)(0.10,256)(0.15,468)(0.20,690)(0.25,914)(0.30,1121)};
\addplot[s60,smooth] coordinates {(0.01,0)(0.03,28)(0.05,73)(0.10,211)(0.15,366)(0.20,494)(0.25,602)(0.30,703)};
\addplot[sFS,smooth] coordinates {(0.01,0)(0.03,8)(0.05,27)(0.10,86)(0.15,145)(0.20,201)(0.25,254)(0.30,300)};
\addplot[sFT,smooth] coordinates {(0.01,0)(0.03,8)(0.05,28)(0.10,91)(0.15,157)(0.20,221)(0.25,275)(0.30,323)};
\addplot[sFTb,smooth] coordinates {(0.01,0)(0.03,10)(0.05,36)(0.10,136)(0.15,264)(0.20,394)(0.25,526)(0.30,660)};
\addplot[sFTc,smooth] coordinates {(0.01,0)(0.03,14)(0.05,45)(0.10,155)(0.15,286)(0.20,411)(0.25,513)(0.30,605)};
\addplot[sLS,smooth] coordinates {(0.01,0)(0.03,5)(0.05,20)(0.10,70)(0.15,122)(0.20,174)(0.25,226)(0.30,272)};
\addplot[sLSb,smooth] coordinates {(0.01,0)(0.03,8)(0.05,28)(0.10,103)(0.15,198)(0.20,304)(0.25,419)(0.30,537)};
\addplot[sLSc,smooth] coordinates {(0.01,0)(0.03,10)(0.05,33)(0.10,118)(0.15,223)(0.20,333)(0.25,433)(0.30,515)};
\addplot[sFSr,smooth] coordinates {(0.01,0)(0.03,8)(0.05,28)(0.10,88)(0.15,148)(0.20,203)(0.25,256)(0.30,306)};
\addplot[sFTr,smooth] coordinates {(0.01,0)(0.03,10)(0.05,36)(0.10,128)(0.15,237)(0.20,345)(0.25,449)(0.30,547)};
\end{axis}

\begin{axis}[botrow, notick, at={(226.5pt,-272.5pt)}]
\addplot[s9,smooth] coordinates {(0.01,0)(0.03,12)(0.05,41)(0.10,138)(0.15,236)(0.20,316)(0.25,382)(0.30,442)};
\addplot[s10,smooth] coordinates {(0.01,0)(0.03,12)(0.05,43)(0.10,143)(0.15,252)(0.20,350)(0.25,442)(0.30,530)};
\addplot[s12,smooth] coordinates {(0.01,0)(0.03,13)(0.05,46)(0.10,152)(0.15,269)(0.20,369)(0.25,459)(0.30,553)};
\addplot[s13,smooth] coordinates {(0.01,0)(0.03,17)(0.05,53)(0.10,177)(0.15,318)(0.20,463)(0.25,602)(0.30,739)};
\addplot[s14,smooth] coordinates {(0.01,0)(0.03,17)(0.05,53)(0.10,178)(0.15,327)(0.20,479)(0.25,635)(0.30,791)};
\addplot[s15,smooth] coordinates {(0.01,0)(0.03,16)(0.05,50)(0.10,162)(0.15,280)(0.20,400)(0.25,521)(0.30,648)};
\addplot[s19,smooth] coordinates {(0.01,0)(0.03,17)(0.05,57)(0.10,190)(0.15,347)(0.20,489)(0.25,609)(0.30,725)};
\addplot[s25,smooth] coordinates {(0.01,0)(0.03,25)(0.05,75)(0.10,235)(0.15,435)(0.20,635)(0.25,835)(0.30,1025)};
\addplot[s60,smooth] coordinates {(0.01,0)(0.03,27)(0.05,69)(0.10,200)(0.15,348)(0.20,469)(0.25,572)(0.30,668)};
\addplot[sFS,smooth] coordinates {(0.01,0)(0.03,8)(0.05,28)(0.10,88)(0.15,149)(0.20,206)(0.25,260)(0.30,312)};
\addplot[sFT,smooth] coordinates {(0.01,0)(0.03,8)(0.05,29)(0.10,96)(0.15,166)(0.20,233)(0.25,290)(0.30,341)};
\addplot[sFTb,smooth] coordinates {(0.01,0)(0.03,10)(0.05,34)(0.10,130)(0.15,252)(0.20,377)(0.25,503)(0.30,628)};
\addplot[sFTc,smooth] coordinates {(0.01,0)(0.03,13)(0.05,43)(0.10,149)(0.15,276)(0.20,396)(0.25,494)(0.30,585)};
\addplot[sLS,smooth] coordinates {(0.01,0)(0.03,5)(0.05,21)(0.10,75)(0.15,130)(0.20,186)(0.25,242)(0.30,295)};
\addplot[sLSb,smooth] coordinates {(0.01,0)(0.03,8)(0.05,27)(0.10,100)(0.15,192)(0.20,295)(0.25,406)(0.30,519)};
\addplot[sLSc,smooth] coordinates {(0.01,0)(0.03,10)(0.05,33)(0.10,118)(0.15,223)(0.20,333)(0.25,433)(0.30,519)};
\addplot[sFSr,smooth] coordinates {(0.01,0)(0.03,8)(0.05,28)(0.10,89)(0.15,150)(0.20,207)(0.25,262)(0.30,315)};
\addplot[sFTr,smooth] coordinates {(0.01,0)(0.03,10)(0.05,35)(0.10,124)(0.15,229)(0.20,334)(0.25,434)(0.30,528)};
\end{axis}

\begin{axis}[botrow, notick, at={(402pt,-272.5pt)}]
\addplot[s9,smooth] coordinates {(0.01,0)(0.03,35)(0.05,68)(0.10,154)(0.15,236)(0.20,310)(0.25,373)(0.30,428)};
\addplot[s10,smooth] coordinates {(0.01,0)(0.03,37)(0.05,74)(0.10,170)(0.15,264)(0.20,349)(0.25,427)(0.30,499)};
\addplot[s12,smooth] coordinates {(0.01,0)(0.03,36)(0.05,72)(0.10,168)(0.15,264)(0.20,349)(0.25,425)(0.30,497)};
\addplot[s13,smooth] coordinates {(0.01,0)(0.03,37)(0.05,78)(0.10,188)(0.15,302)(0.20,409)(0.25,507)(0.30,600)};
\addplot[s14,smooth] coordinates {(0.01,0)(0.03,38)(0.05,77)(0.10,184)(0.15,299)(0.20,409)(0.25,515)(0.30,619)};
\addplot[s15,smooth] coordinates {(0.01,0)(0.03,37)(0.05,74)(0.10,170)(0.15,264)(0.20,352)(0.25,432)(0.30,510)};
\addplot[s19,smooth] coordinates {(0.01,0)(0.03,39)(0.05,80)(0.10,195)(0.15,318)(0.20,433)(0.25,535)(0.30,633)};
\addplot[s25,smooth] coordinates {(0.01,0)(0.03,44)(0.05,92)(0.10,230)(0.15,385)(0.20,535)(0.25,680)(0.30,825)};
\addplot[s60,smooth] coordinates {(0.01,0)(0.03,40)(0.05,82)(0.10,196)(0.15,313)(0.20,418)(0.25,512)(0.30,600)};
\addplot[sFS,smooth] coordinates {(0.01,0)(0.03,29)(0.05,58)(0.10,126)(0.15,191)(0.20,251)(0.25,306)(0.30,356)};
\addplot[sFT,smooth] coordinates {(0.01,0)(0.03,32)(0.05,64)(0.10,136)(0.15,204)(0.20,267)(0.25,323)(0.30,370)};
\addplot[sFTb,smooth] coordinates {(0.01,0)(0.03,38)(0.05,77)(0.10,182)(0.15,290)(0.20,388)(0.25,476)(0.30,556)};
\addplot[sFTc,smooth] coordinates {(0.01,0)(0.03,40)(0.05,82)(0.10,200)(0.15,318)(0.20,425)(0.25,510)(0.30,581)};
\addplot[sLS,smooth] coordinates {(0.01,0)(0.03,28)(0.05,56)(0.10,123)(0.15,186)(0.20,245)(0.25,297)(0.30,342)};
\addplot[sLSb,smooth] coordinates {(0.01,0)(0.03,32)(0.05,64)(0.10,152)(0.15,246)(0.20,336)(0.25,422)(0.30,505)};
\addplot[sLSc,smooth] coordinates {(0.01,0)(0.03,36)(0.05,73)(0.10,170)(0.15,268)(0.20,362)(0.25,447)(0.30,523)};
\addplot[sFSr,smooth] coordinates {(0.01,0)(0.03,29)(0.05,58)(0.10,127)(0.15,193)(0.20,253)(0.25,308)(0.30,360)};
\addplot[sFTr,smooth] coordinates {(0.01,0)(0.03,38)(0.05,76)(0.10,174)(0.15,270)(0.20,357)(0.25,432)(0.30,500)};
\end{axis}

\begin{axis}[botrow, notick, at={(577pt,-272.5pt)}]
\addplot[s9,smooth] coordinates {(0.01,0)(0.03,10)(0.05,20)(0.10,46)(0.15,71)(0.20,89)(0.25,105)(0.30,121)};
\addplot[s10,smooth] coordinates {(0.01,0)(0.03,10)(0.05,20)(0.10,48)(0.15,78)(0.20,102)(0.25,125)(0.30,147)};
\addplot[s12,smooth] coordinates {(0.01,0)(0.03,10)(0.05,21)(0.10,51)(0.15,85)(0.20,112)(0.25,137)(0.30,160)};
\addplot[s13,smooth] coordinates {(0.01,0)(0.03,11)(0.05,22)(0.10,57)(0.15,99)(0.20,145)(0.25,189)(0.30,233)};
\addplot[s14,smooth] coordinates {(0.01,0)(0.03,11)(0.05,22)(0.10,58)(0.15,103)(0.20,152)(0.25,207)(0.30,267)};
\addplot[s15,smooth] coordinates {(0.01,0)(0.03,11)(0.05,21)(0.10,51)(0.15,85)(0.20,120)(0.25,157)(0.30,201)};
\addplot[s19,smooth] coordinates {(0.01,0)(0.03,11)(0.05,22)(0.10,58)(0.15,104)(0.20,146)(0.25,183)(0.30,220)};
\addplot[s25,smooth] coordinates {(0.01,0)(0.03,15)(0.05,32)(0.10,80)(0.15,145)(0.20,217)(0.25,297)(0.30,372)};
\addplot[s60,smooth] coordinates {(0.01,0)(0.03,11)(0.05,22)(0.10,58)(0.15,102)(0.20,138)(0.25,169)(0.30,200)};
\addplot[sFS,smooth] coordinates {(0.01,0)(0.03,7)(0.05,14)(0.10,31)(0.15,48)(0.20,64)(0.25,79)(0.30,94)};
\addplot[sFT,smooth] coordinates {(0.01,0)(0.03,8)(0.05,15)(0.10,35)(0.15,55)(0.20,72)(0.25,88)(0.30,102)};
\addplot[sFTb,smooth] coordinates {(0.01,0)(0.03,9)(0.05,19)(0.10,45)(0.15,74)(0.20,104)(0.25,134)(0.30,164)};
\addplot[sFTc,smooth] coordinates {(0.01,0)(0.03,10)(0.05,20)(0.10,50)(0.15,84)(0.20,117)(0.25,151)(0.30,184)};
\addplot[sLS,smooth] coordinates {(0.01,0)(0.03,6)(0.05,12)(0.10,27)(0.15,42)(0.20,56)(0.25,70)(0.30,84)};
\addplot[sLSb,smooth] coordinates {(0.01,0)(0.03,8)(0.05,17)(0.10,39)(0.15,64)(0.20,91)(0.25,121)(0.30,152)};
\addplot[sLSc,smooth] coordinates {(0.01,0)(0.03,9)(0.05,18)(0.10,43)(0.15,70)(0.20,100)(0.25,130)(0.30,160)};
\addplot[sFSr,smooth] coordinates {(0.01,0)(0.03,7)(0.05,14)(0.10,31)(0.15,48)(0.20,64)(0.25,80)(0.30,95)};
\addplot[sFTr,smooth] coordinates {(0.01,0)(0.03,9)(0.05,18)(0.10,43)(0.15,69)(0.20,96)(0.25,123)(0.30,150)};
\end{axis}

% ---------------- LEGEND ----------------
\begin{axis}[hide axis, scale only axis, width=751.5pt, height=518pt, at={(0pt,0pt)}, anchor=north west,
  xmin=0, xmax=1, ymin=0, ymax=1,
  legend columns=6,
  legend image code/.code={\draw[#1] (0pt,0pt) -- (21pt,0pt);},
  legend style={at={(0.5343,0.9474)}, anchor=center, fill=black!92!white, draw=black!70!white,
    rounded corners=2pt, text=txt, font=\fontsize{9.5}{11}\selectfont,
    inner xsep=3pt, inner ysep=2pt, row sep=1.5pt,
    /tikz/every odd column/.append style={column sep=5pt},
    /tikz/every even column/.append style={column sep=14pt}},
  legend cell align=left]
\addlegendimage{s9}\addlegendentry{3D 9M$_\odot$}
\addlegendimage{s13}\addlegendentry{3D 13M$_\odot$}
\addlegendimage{s19}\addlegendentry{3D 19M$_\odot$}
\addlegendimage{sFS}\addlegendentry{FS 11.2M$_\odot$}
\addlegendimage{sFTc}\addlegendentry{FT 27M$_\odot$}
\addlegendimage{sLSc}\addlegendentry{LS 27M$_\odot$}
\addlegendimage{s10}\addlegendentry{3D 10M$_\odot$}
\addlegendimage{s14}\addlegendentry{3D 14M$_\odot$}
\addlegendimage{s25}\addlegendentry{3D 25M$_\odot$}
\addlegendimage{sFT}\addlegendentry{FT 11.2M$_\odot$}
\addlegendimage{sLS}\addlegendentry{LS 11.2M$_\odot$}
\addlegendimage{sFSr}\addlegendentry{FS 11.2M$_\odot$ rot}
\addlegendimage{s12}\addlegendentry{3D 12M$_\odot$}
\addlegendimage{s15}\addlegendentry{3D 15M$_\odot$}
\addlegendimage{s60}\addlegendentry{3D 60M$_\odot$}
\addlegendimage{sFTb}\addlegendentry{FT 15M$_\odot$}
\addlegendimage{sLSb}\addlegendentry{LS 15M$_\odot$}
\addlegendimage{sFTr}\addlegendentry{FT 15M$_\odot$ rot}
\end{axis}
\pgfresetboundingbox
\useasboundingbox (0pt,0pt) rectangle (751.5pt,-518pt);
\end{tikzpicture}
\end{document}
